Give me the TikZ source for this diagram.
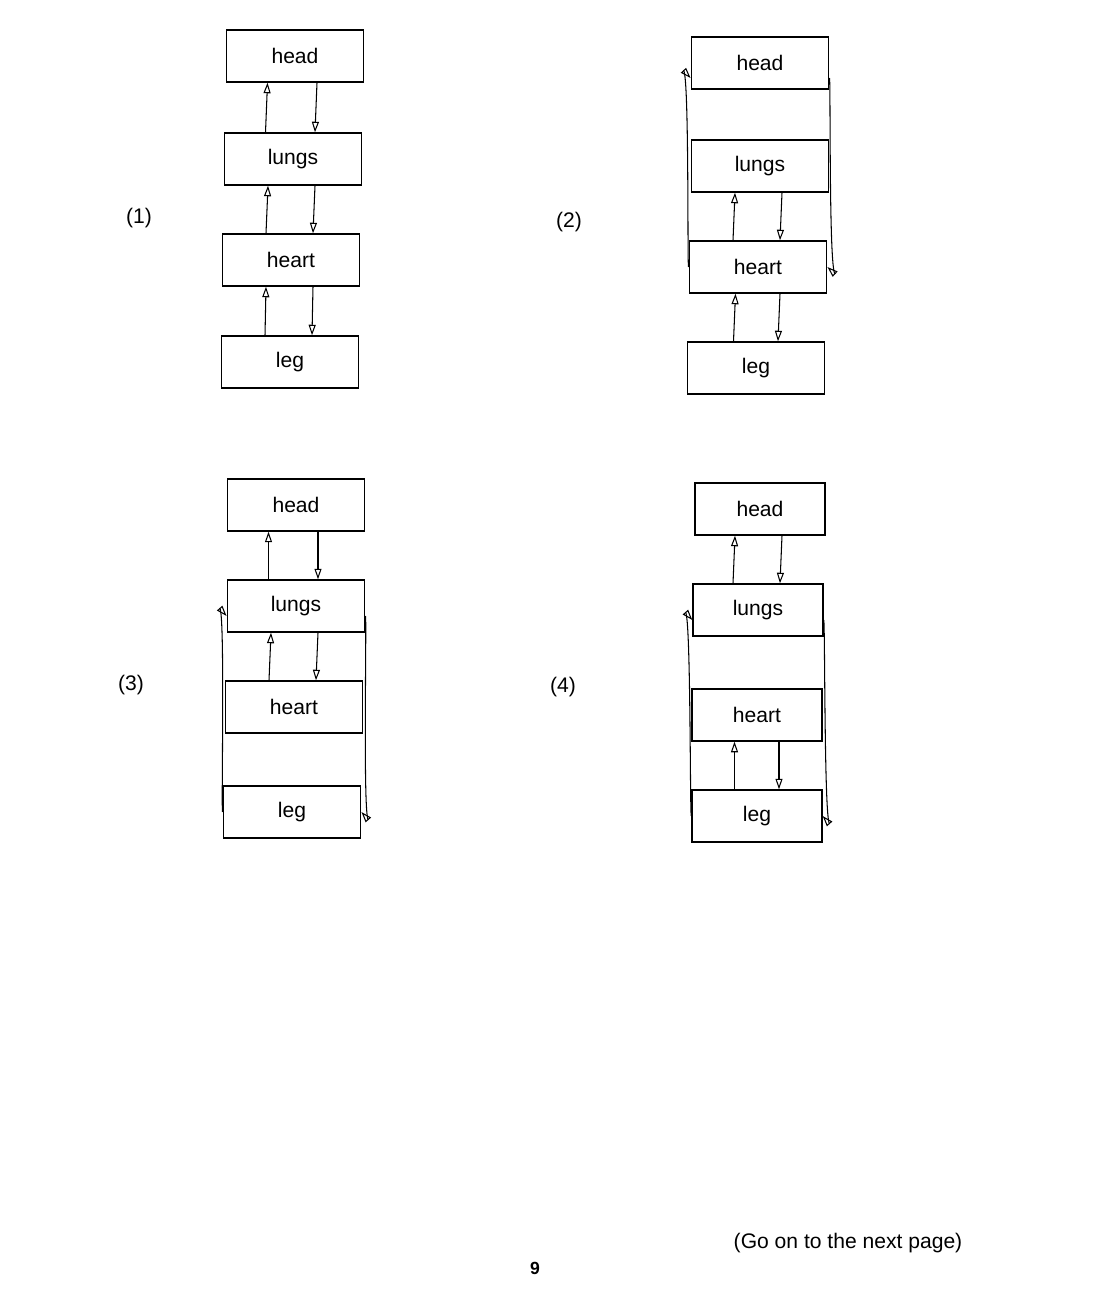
\documentclass[tikz,border=0pt]{standalone}
\usepackage{fontspec}
\setmainfont{Liberation Sans}
\usetikzlibrary{arrows.meta,positioning}
\tikzset{>={Triangle[open,length=6pt,width=4pt]}}
\tikzstyle{organ} = [draw, rectangle, minimum height=1.04cm, minimum width=2.75cm, thick]
\tikzstyle{flow} = [->, semithick]
\begin{document}
\begin{tikzpicture}[x=0.02cm,y=-0.02cm,font=\fontsize{12}{14}\selectfont]
\useasboundingbox (0,0) rectangle (1116,1316);

% (1)
\node[organ] (headA) at (295,56) {head};
\node[organ] (lungsA) at (293,159) {lungs};
\node[organ] (heartA) at (291,260) {heart};
\node[organ] (legA) at (290,362) {leg};
\node (numA) at (139,218) {(1)};
\draw[flow] ([xshift=-0.55cm]lungsA.north) -- ([xshift=-0.55cm]headA.south);
\draw[flow] ([xshift=0.44cm]headA.south) -- ([xshift=0.44cm]lungsA.north);
\draw[flow] ([xshift=-0.5cm]heartA.north) -- ([xshift=-0.5cm]lungsA.south);
\draw[flow] ([xshift=0.44cm]lungsA.south) -- ([xshift=0.44cm]heartA.north);
\draw[flow] ([xshift=-0.5cm]legA.north) -- ([xshift=-0.5cm]heartA.south);
\draw[flow] ([xshift=0.44cm]heartA.south) -- ([xshift=0.44cm]legA.north);

% (2)
\node[organ] (headB) at (760,63) {head};
\node[organ] (lungsB) at (760,166) {lungs};
\node[organ] (heartB) at (758,267) {heart};
\node[organ] (legB) at (756,368) {leg};
\node (numB) at (569,222) {(2)};
\draw[flow] ([xshift=-0.5cm]heartB.north) -- ([xshift=-0.5cm]lungsB.south);
\draw[flow] ([xshift=0.44cm]lungsB.south) -- ([xshift=0.44cm]heartB.north);
\draw[flow] ([xshift=-0.45cm]legB.north) -- ([xshift=-0.45cm]heartB.south);
\draw[flow] ([xshift=0.44cm]heartB.south) -- ([xshift=0.44cm]legB.north);
\draw[flow] (heartB.west) .. controls +(-1.3,1.2) and +(-1.3,-1.4) .. ([yshift=-0.3cm]headB.west);
\draw[flow] ([yshift=-0.3cm]headB.east) .. controls +(1.3,-1.4) and +(1.3,1.2) .. (heartB.east);

% (3)
\node[organ] (headC) at (296,505) {head};
\node[organ] (lungsC) at (296,606) {lungs};
\node[organ] (heartC) at (294,707) {heart};
\node[organ] (legC) at (292,812) {leg};
\node (numC) at (131,685) {(3)};
\draw[flow] ([xshift=-0.55cm]lungsC.north) -- ([xshift=-0.55cm]headC.south);
\draw[flow] ([xshift=0.44cm]headC.south) -- ([xshift=0.44cm]lungsC.north);
\draw[flow] ([xshift=-0.5cm]heartC.north) -- ([xshift=-0.5cm]lungsC.south);
\draw[flow] ([xshift=0.44cm]lungsC.south) -- ([xshift=0.44cm]heartC.north);
\draw[flow] (legC.west) .. controls +(-1.4,1.6) and +(-1.4,-1.6) .. ([yshift=-0.2cm]lungsC.west);
\draw[flow] ([yshift=-0.2cm]lungsC.east) .. controls +(1.4,-1.6) and +(1.4,1.6) .. (legC.east);

% (4)
\node[organ, minimum width=2.6cm] (headD) at (760,509) {head};
\node[organ, minimum width=2.6cm] (lungsD) at (758,610) {lungs};
\node[organ, minimum width=2.6cm] (heartD) at (757,715) {heart};
\node[organ, minimum width=2.6cm] (legD) at (757,816) {leg};
\node (numD) at (563,687) {(4)};
\draw[flow] ([xshift=-0.5cm]lungsD.north) -- ([xshift=-0.5cm]headD.south);
\draw[flow] ([xshift=0.44cm]headD.south) -- ([xshift=0.44cm]lungsD.north);
\draw[flow] ([xshift=-0.45cm]legD.north) -- ([xshift=-0.45cm]heartD.south);
\draw[flow] ([xshift=0.44cm]heartD.south) -- ([xshift=0.44cm]legD.north);
\draw[flow] (legD.west) .. controls +(-1.4,1.6) and +(-1.4,-1.6) .. ([yshift=-0.2cm]lungsD.west);
\draw[flow] ([yshift=-0.2cm]lungsD.east) .. controls +(1.4,-1.6) and +(1.4,1.6) .. (legD.east);

% footer
\node (next) at (848,1243) {(Go on to the next page)};
\node[font=\bfseries] (page) at (535,1268) {9};
\end{tikzpicture}
\end{document}
